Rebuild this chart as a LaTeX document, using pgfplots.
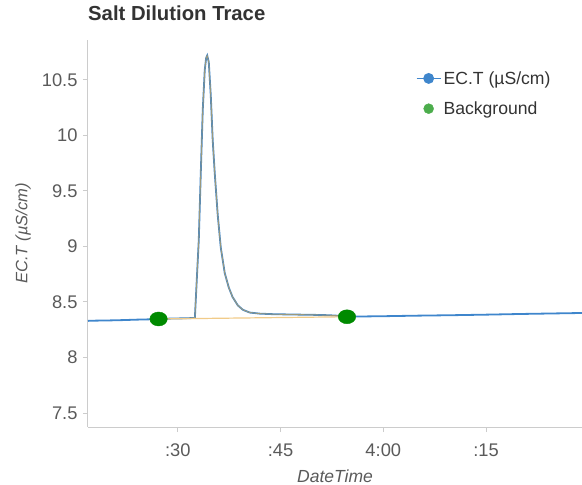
\documentclass[border=0pt]{standalone}
\usepackage{pgfplots}
\pgfplotsset{compat=1.18}
\usepackage{pgfplotstable}
\usepackage{fontspec}
\setmainfont{Liberation Sans}
\definecolor{ecblue}{HTML}{3F86CC}
\definecolor{bggreen}{HTML}{008A00}
\definecolor{bgorange}{HTML}{E8A93A}
\definecolor{axgray}{HTML}{CCCCCC}
\definecolor{lblgray}{HTML}{5A5A5A}
\definecolor{ttlgray}{HTML}{333333}
\pgfplotsset{
  mylegline/.style={legend image code/.code={\draw[mark repeat=2,mark phase=2,##1] plot coordinates {(0pt,0pt) (12pt,0pt) (24pt,0pt)};}},
  mylegmark/.style={legend image code/.code={\draw[##1] plot coordinates {(12pt,0pt)};}},
}
\pgfplotstableread{
t v
16.9 8.330
18 8.332
20 8.334
22 8.337
24 8.341
26 8.344
27.2 8.347
28 8.349
30 8.352
31 8.353
32 8.355
32.5 8.357
32.63 8.52
33.07 9.06
33.36 9.66
33.65 10.23
33.94 10.59
34.15 10.70
34.3 10.72
34.53 10.66
34.82 10.36
35.1 9.96
35.4 9.66
35.84 9.28
36.28 8.99
36.86 8.76
37.45 8.63
38.0 8.545
38.76 8.47
39.5 8.43
40.5 8.405
42 8.395
44 8.390
46 8.388
48 8.386
50 8.384
52 8.381
54 8.374
54.7 8.368
56 8.369
60 8.372
65 8.377
70 8.381
75 8.386
80 8.392
85 8.397
89 8.401
}\ectable
\pgfplotstableread{
t v
27.2 8.347
54.7 8.367
}\bgtable
\begin{document}
\begin{tikzpicture}
\path[use as bounding box] (-88pt,-58pt) rectangle (494pt,427pt);
\begin{axis}[
  scale only axis,
  width=494pt, height=387pt,
  at={(0pt,0pt)}, anchor=south west,
  xmin=16.9, xmax=89, ymin=7.374, ymax=10.86,
  axis lines*=left,
  axis line style={axgray, line width=1pt},
  every outer x axis line/.append style={-},
  every outer y axis line/.append style={-},
  xtick={30,45,60,75},
  xticklabels={:30,:45,4:00,:15},
  ytick={7.5,8,8.5,9,9.5,10,10.5},
  yticklabels={7.5,8,8.5,9,9.5,10,10.5},
  tick align=outside,
  major tick length=5pt,
  tick style={axgray, line width=1pt},
  ticklabel style={font=\fontsize{18.3}{21}\selectfont, text=lblgray},
  xticklabel style={yshift=-8pt},
  yticklabel style={xshift=-2pt},
  /pgf/number format/assume math mode=true,
  title={\bfseries Salt Dilution Trace},
  title style={at={(axis description cs:0,1)}, anchor=base west, yshift=13pt, xshift=0pt, font=\fontsize{20.3}{24}\selectfont, text=ttlgray, inner sep=0pt},
  xlabel={\itshape DateTime},
  xlabel style={at={(axis description cs:0.5,0)}, anchor=center, yshift=-49pt, font=\fontsize{17.5}{20}\selectfont, text=lblgray},
  ylabel={\itshape EC.T (µS/cm)},
  ylabel style={at={(axis description cs:0,0.5)}, anchor=center, yshift=65pt, font=\fontsize{16.5}{19}\selectfont, text=lblgray},
  legend style={at={(axis description cs:0.657,0.93)}, anchor=north west, draw=none, fill=none,
    font=\fontsize{17.6}{20}\selectfont, text=ttlgray, row sep=12pt, cells={anchor=west}},
  legend cell align=left,
]
\addplot[ecblue, line width=1.8pt, forget plot] table[x=t,y=v] {\ectable};
\addplot[bgorange, line width=0.9pt, opacity=0.55, restrict x to domain=27.2:54.7, forget plot] table[x=t,y=v] {\ectable};
\addplot[bgorange!60!white, line width=1.2pt, forget plot] table[x=t,y=v] {\bgtable};
\addplot[only marks, mark=*, mark size=7pt, mark options={xscale=1.25, fill=bggreen, draw=bggreen}, forget plot] table[x=t,y=v] {\bgtable};
\addlegendimage{ecblue, line width=1.8pt, mark=*, mark size=4.5pt, mark options={fill=ecblue, draw=ecblue}, mylegline}
\addlegendentry{EC.T (µS/cm)}
\addlegendimage{only marks, mark=*, mark size=5pt, mark options={fill=bggreen!70!white, draw=bggreen!70!white}, mylegmark}
\addlegendentry{Background}
\end{axis}
\end{tikzpicture}
\end{document}
